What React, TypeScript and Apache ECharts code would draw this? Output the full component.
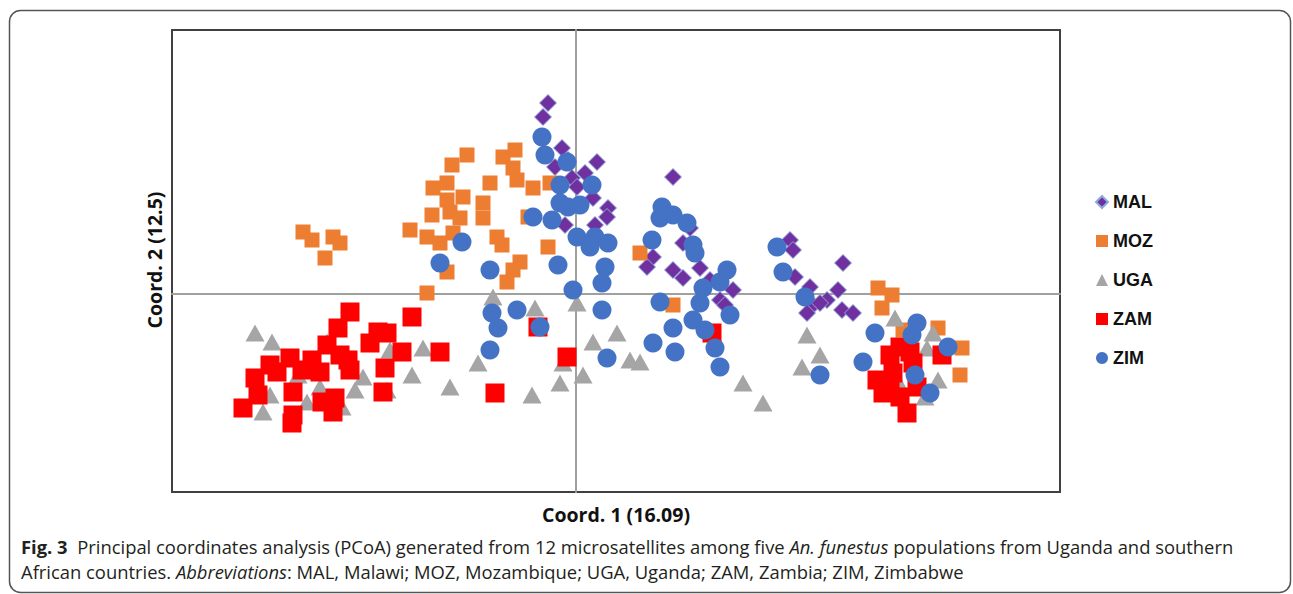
import React, { useEffect, useRef } from "react";
import * as echarts from "echarts";

// Principal coordinates (Coord. 1, Coord. 2)
const MAL: [number, number][] = [
  [-0.28, 1.91], [-0.33, 1.77], [-0.14, 1.46], [-0.08, 1.34], [0.21, 1.32], [-0.21, 1.27],
  [0.09, 1.21], [-0.04, 1.16], [0.01, 1.07], [0.17, 0.96], [0.32, 0.86], [0.19, 0.69],
  [-0.11, 0.69], [0.31, 0.77], [0.97, 1.17], [1.14, 0.66], [1.07, 0.51], [0.77, 0.37],
  [0.71, 0.27], [0.97, 0.24], [1.07, 0.16], [1.24, 0.26], [1.34, 0.14], [1.57, 0.04],
  [1.44, -0.06], [1.49, -0.11], [2.14, 0.54], [2.17, 0.44], [2.67, 0.31], [2.19, 0.17],
  [2.34, 0.07], [2.62, 0.04], [2.51, -0.06], [2.37, -0.11], [2.44, -0.09], [2.66, -0.16],
  [2.77, -0.19], [2.31, -0.19],
];

const MOZ: [number, number][] = [
  [-2.73, 0.62], [-2.64, 0.54], [-2.43, 0.57], [-2.36, 0.51], [-2.51, 0.36], [-1.09, 1.39],
  [-1.24, 1.29], [-1.43, 1.06], [-1.29, 1.11], [-1.13, 0.97], [-1.29, 0.94], [-1.44, 0.79],
  [-1.26, 0.82], [-1.16, 0.76], [-1.66, 0.64], [-1.49, 0.57], [-1.36, 0.51], [-1.23, 0.61],
  [-1.29, 0.22], [-1.49, 0.01], [-0.86, 1.11], [-0.93, 0.91], [-0.93, 0.76], [-0.73, 1.37],
  [-0.61, 1.44], [-0.63, 1.26], [-0.59, 1.14], [-0.43, 1.06], [-0.26, 1.11], [-0.48, 0.77],
  [-0.79, 0.57], [-0.74, 0.49], [-0.28, 0.47], [-0.56, 0.32], [-0.63, 0.24], [-0.69, 0.12],
  [0.64, 0.41], [0.97, -0.11], [3.02, 0.06], [3.16, -0.01], [3.06, -0.14], [3.27, -0.36],
  [3.62, -0.34], [3.86, -0.54], [3.84, -0.81],
];

const UGA: [number, number][] = [
  [-3.21, -0.39], [-3.04, -0.48], [-2.49, -0.48], [-1.86, -0.56], [-1.53, -0.54], [-1.64, -0.81],
  [-1.26, -0.93], [-2.21, -0.96], [-2.13, -0.83], [-1.89, -0.96], [-3.13, -1.18], [-2.34, -1.13],
  [-3.06, -1.01], [-2.69, -1.08], [-2.78, -0.81], [-2.56, -0.93], [-0.98, -0.69], [-0.83, -0.03],
  [-0.41, -0.14], [0.01, -0.09], [0.41, -0.39], [0.17, -0.48], [-0.44, -1.01], [-0.16, -0.89],
  [0.07, -0.81], [-0.13, -0.69], [0.54, -0.66], [0.64, -0.68], [1.67, -0.89], [1.87, -1.09],
  [2.31, -0.41], [2.44, -0.61], [2.26, -0.73], [3.19, -0.24], [3.57, -0.39], [3.51, -0.54],
  [3.62, -0.86], [3.49, -1.03], [3.24, -0.91],
];

const ZAM: [number, number][] = [
  [-2.26, -0.18], [-1.64, -0.23], [-2.38, -0.34], [-1.98, -0.38], [-1.89, -0.39], [-2.49, -0.51],
  [-2.06, -0.49], [-1.36, -0.58], [-1.74, -0.58], [-2.86, -0.64], [-3.06, -0.71], [-2.64, -0.66],
  [-2.28, -0.66], [-2.36, -0.61], [-1.91, -0.74], [-3.21, -0.84], [-2.56, -0.78], [-2.74, -0.76],
  [-2.99, -0.78], [-2.26, -0.76], [-1.93, -0.98], [-3.18, -1.01], [-3.33, -1.14], [-2.83, -0.98],
  [-2.83, -1.21], [-2.54, -1.08], [-2.41, -1.04], [-2.43, -1.18], [-2.84, -1.29], [-0.38, -0.33],
  [-0.09, -0.63], [-0.81, -0.99], [1.36, -0.39], [3.14, -0.61], [3.24, -0.53], [3.34, -0.58],
  [3.66, -0.61], [3.01, -0.86], [3.17, -0.79], [3.37, -0.69], [3.07, -0.99], [3.14, -0.93],
  [3.24, -1.03], [3.41, -0.93], [3.31, -1.19],
];

const ZIM: [number, number][] = [
  [-0.34, 1.57], [-0.31, 1.39], [-0.09, 1.32], [-0.16, 1.09], [0.16, 1.09], [-0.16, 0.91],
  [0.04, 0.89], [-0.08, 0.87], [-0.43, 0.77], [-0.24, 0.74], [0.01, 0.57], [0.19, 0.57],
  [0.32, 0.51], [0.14, 0.47], [-1.14, 0.52], [-1.36, 0.31], [-0.86, 0.24], [-0.18, 0.29],
  [0.29, 0.27], [0.26, 0.11], [-0.03, 0.04], [0.26, -0.16], [-0.59, -0.16], [-0.84, -0.19],
  [-0.78, -0.34], [-0.36, -0.33], [-0.86, -0.56], [0.31, -0.64], [0.77, -0.49], [0.86, 0.87],
  [0.84, 0.76], [0.97, 0.79], [1.11, 0.71], [0.76, 0.54], [1.17, 0.49], [1.19, 0.41],
  [1.51, 0.24], [1.44, 0.12], [1.27, 0.06], [1.24, -0.09], [1.17, -0.26], [1.29, -0.36],
  [1.39, -0.54], [1.44, -0.73], [1.54, -0.21], [0.84, -0.08], [0.97, -0.34], [0.99, -0.58],
  [2.01, 0.47], [2.07, 0.22], [2.29, -0.03], [2.44, -0.81], [2.99, -0.39], [3.41, -0.29],
  [3.36, -0.41], [3.72, -0.53], [2.87, -0.68], [3.39, -0.81], [3.54, -0.99],
];

const X_RANGE = [-4.04, 4.84];
const Y_RANGE = [-1.98, 2.64];

const X_TITLE = "Coord. 1 (16.09)";
const Y_TITLE = "Coord. 2 (12.5)";
const CAPTION_1 =
  "{b|Fig. 3}  Principal coordinates analysis (PCoA) generated from 12 microsatellites among five {i|An. funestus} populations from Uganda and southern";
const CAPTION_2 =
  "African countries. {i|Abbreviations}: MAL, Malawi; MOZ, Mozambique; UGA, Uganda; ZAM, Zambia; ZIM, Zimbabwe";

const SERIES = [
  { name: "MAL", data: MAL, symbol: "diamond", size: 17, color: "#7030A0", border: "#8FAADC" },
  { name: "MOZ", data: MOZ, symbol: "rect", size: 15, color: "#ED7D31", border: "#ED7D31" },
  { name: "UGA", data: UGA, symbol: "triangle", size: [19, 17], color: "#A5A5A5", border: "#A5A5A5" },
  { name: "ZAM", data: ZAM, symbol: "rect", size: 19, color: "#FF0000", border: "#FF0000" },
  { name: "ZIM", data: ZIM, symbol: "circle", size: 19, color: "#4472C4", border: "#4472C4" },
];

export default function App() {
  const ref = useRef<HTMLDivElement>(null);

  useEffect(() => {
    if (!ref.current) return;
    const chart = echarts.init(ref.current, null, { renderer: "svg" });
    const captionFont = '"Open Sans", sans-serif';
    const capSize = 18.4;
    const rich = {
      b: { fontWeight: "bold", fontFamily: captionFont, fontSize: capSize, fill: "#231F20" },
      i: { fontStyle: "italic", fontFamily: captionFont, fontSize: capSize, fill: "#231F20" },
    };
    chart.setOption({
      animation: false,
      backgroundColor: "#ffffff",
      grid: {
        left: 172,
        top: 30,
        width: 888,
        height: 462,
        show: true,
        borderColor: "#404040",
        borderWidth: 2,
        backgroundColor: "transparent",
      },
      xAxis: {
        type: "value",
        min: X_RANGE[0],
        max: X_RANGE[1],
        axisLine: { show: true, onZero: true, lineStyle: { color: "#A0A0A0", width: 2 } },
        axisTick: { show: false },
        axisLabel: { show: false },
        splitLine: { show: false },
      },
      yAxis: {
        type: "value",
        min: Y_RANGE[0],
        max: Y_RANGE[1],
        axisLine: { show: true, onZero: true, lineStyle: { color: "#A0A0A0", width: 2 } },
        axisTick: { show: false },
        axisLabel: { show: false },
        splitLine: { show: false },
      },
      legend: {
        orient: "vertical",
        left: 1090,
        top: 187,
        itemWidth: 12,
        itemHeight: 12,
        itemGap: 19,
        textStyle: {
          fontFamily: '"Liberation Sans", Arial, sans-serif',
          fontWeight: "bold",
          fontSize: 18,
          color: "#111",
          lineHeight: 20,
        },
        data: SERIES.map((s) => ({ name: s.name, icon: s.symbol })),
      },
      series: SERIES.map((s) => ({
        name: s.name,
        type: "scatter",
        data: s.data,
        symbol: s.symbol,
        symbolSize: s.size,
        itemStyle: {
          color: s.color,
          borderColor: s.border,
          borderWidth: s.name === "MAL" ? 1 : 0,
          opacity: 1,
        },
        emphasis: { disabled: true },
      })),
      graphic: [
        {
          type: "rect",
          shape: { x: 9.5, y: 10.5, width: 1281, height: 582, r: 11 },
          style: { fill: "none", stroke: "#555", lineWidth: 1.5 },
          silent: true,
          z: -1,
        },
        {
          type: "text",
          x: 616,
          y: 514,
          style: {
            text: X_TITLE,
            fill: "#111",
            font: 'bold 19.5px "Open Sans", sans-serif',
            align: "center",
            verticalAlign: "middle",
          },
        },
        {
          type: "text",
          x: 154,
          y: 260,
          rotation: Math.PI / 2,
          style: {
            text: Y_TITLE,
            fill: "#111",
            font: 'bold 19.5px "Open Sans", sans-serif',
            align: "center",
            verticalAlign: "middle",
          },
        },
        {
          type: "text",
          x: 21,
          y: 546,
          style: {
            text: CAPTION_1,
            fill: "#231F20",
            font: `${capSize}px ${captionFont}`,
            verticalAlign: "middle",
            rich,
          },
        },
        {
          type: "text",
          x: 21,
          y: 571,
          style: {
            text: CAPTION_2,
            fill: "#231F20",
            font: `${capSize}px ${captionFont}`,
            verticalAlign: "middle",
            rich,
          },
        },
      ],
    });
    return () => chart.dispose();
  }, []);

  return (
    <div
      ref={ref}
      style={{ position: "fixed", left: 0, top: 0, width: 1293, height: 594, background: "#fff" }}
    />
  );
}
